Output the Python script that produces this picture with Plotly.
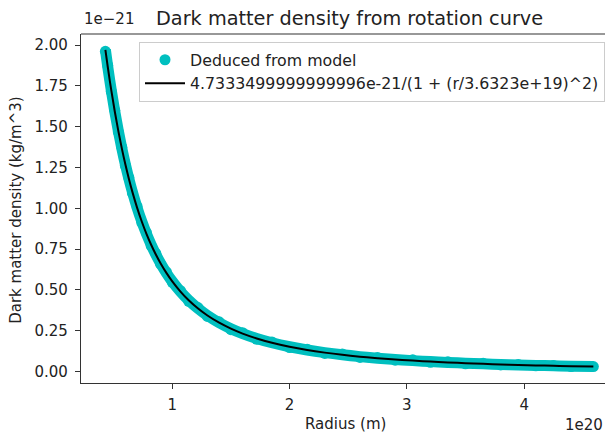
import plotly.graph_objects as go

# Radius in units of 1e20 m
radius = [0.43, 0.45, 0.48, 0.51, 0.54, 0.57, 0.60, 0.63, 0.66, 0.70, 0.74, 0.78, 0.82, 0.86, 0.90, 0.95, 1.00,
          1.07, 1.14, 1.22, 1.30, 1.40, 1.50, 1.60, 1.72, 1.85, 2.00,
          2.15, 2.30, 2.45, 2.60, 2.75, 2.90, 3.05, 3.20, 3.35, 3.50, 3.65, 3.80, 3.95, 4.10, 4.25, 4.40, 4.59]

# Density deduced from model, units of 1e-21 kg/m^3
density_deduced = [1.962, 1.875, 1.716, 1.600, 1.468, 1.374, 1.262, 1.188, 1.093, 1.011, 0.912, 0.851, 0.770, 0.723, 0.657, 0.610, 0.546,
                   0.495, 0.430, 0.391, 0.337, 0.304, 0.256, 0.237, 0.197, 0.181, 0.146,
                   0.136, 0.110, 0.107, 0.086, 0.086, 0.069, 0.071, 0.056, 0.059, 0.047, 0.050, 0.040, 0.043, 0.034, 0.037, 0.030, 0.030]

# Fitted curve values, units of 1e-21 kg/m^3
density_fit = [1.97103, 1.86732, 1.72354, 1.59297, 1.47449, 1.36701, 1.26947, 1.18089, 1.10037, 1.00412, 0.91901, 0.84354, 0.77641, 0.71655, 0.66299, 0.60371, 0.55171,
               0.48910, 0.43624, 0.38541, 0.34277, 0.29853, 0.26218, 0.23199, 0.20208, 0.17570, 0.15114,
               0.13135, 0.11518, 0.10180, 0.09061, 0.08116, 0.07311, 0.06619, 0.06021, 0.05500, 0.05044, 0.04642, 0.04286, 0.03969, 0.03686, 0.03432, 0.03204, 0.02946]

x_ticks = [1, 2, 3, 4]
y_ticks = [0.0, 0.25, 0.5, 0.75, 1.0, 1.25, 1.5, 1.75, 2.0]

title = "Dark matter density from rotation curve"
fit_label = "4.7333499999999996e-21/(1 + (r/3.6323e+19)^2)"
scatter_label = "Deduced from model"

CYAN = "#00BFBF"
FONT = "DejaVu Sans"
TXT = "#222222"

OFF = 8  # page body margin
W, H = 613 - OFF, 436 - OFF
L, T = 81 - OFF, 34 - OFF
B = H - (383.3 - OFF)
pw = W - L
ph = H - T - B


def px(x):
    return (x - OFF - L) / pw


def py(y):
    return 1 - (y - OFF - T) / ph


fig = go.Figure()
fig.add_trace(go.Scatter(x=radius, y=density_fit, mode="lines",
                         line=dict(color=CYAN, width=11, shape="spline"),
                         showlegend=False, hoverinfo="skip"))
fig.add_trace(go.Scatter(x=radius, y=density_deduced, mode="markers",
                         marker=dict(color=CYAN, size=11, line=dict(width=0)),
                         name=scatter_label))
fig.add_trace(go.Scatter(x=radius, y=density_fit, mode="lines",
                         line=dict(color="black", width=2, shape="spline"),
                         name=fit_label))

fig.update_layout(
    width=W, height=H, autosize=False,
    margin=dict(l=L, r=0, t=T, b=B, pad=0),
    plot_bgcolor="white", paper_bgcolor="white",
    font=dict(family=FONT, size=15, color=TXT),
    showlegend=True,
    legend=dict(x=px(139), y=py(42), xanchor="left", yanchor="top",
                bgcolor="rgba(255,255,255,0.8)", bordercolor="#cccccc", borderwidth=1,
                font=dict(family=FONT, size=15.8, color=TXT),
                itemwidth=40, tracegroupgap=0),
    xaxis=dict(range=[0.222, 0.222 + pw / 117.3], tickvals=x_ticks, ticktext=[str(v) for v in x_ticks],
               showgrid=False, zeroline=False, showline=True, linecolor="#333333", linewidth=1.2,
               ticks="outside", ticklen=5, tickcolor="#333333", tickwidth=1, ticklabelstandoff=3,
               tickfont=dict(family=FONT, size=15, color=TXT)),
    yaxis=dict(range=[-0.071, 2.068], tickvals=y_ticks, ticktext=["%.2f" % v for v in y_ticks],
               showgrid=False, zeroline=False, showline=True, linecolor="#333333", linewidth=1.2,
               ticks="outside", ticklen=5, tickcolor="#333333", tickwidth=1, ticklabelstandoff=4,
               tickfont=dict(family=FONT, size=15, color=TXT)),
    shapes=[dict(type="line", xref="paper", yref="paper", x0=0, x1=1, y0=1, y1=1,
                 line=dict(color="#333333", width=1.2))],
    annotations=[
        dict(text=title, xref="paper", yref="paper", x=px(349), y=py(18), xanchor="center",
             yanchor="middle", showarrow=False, borderpad=0,
             font=dict(family=FONT, size=19.3, color=TXT)),
        dict(text="1e\u221221", xref="paper", yref="paper", x=px(83), y=py(19), xanchor="left",
             yanchor="middle", showarrow=False, borderpad=0, font=dict(family=FONT, size=15, color=TXT)),
        dict(text="1e20", xref="paper", yref="paper", x=px(604), y=py(425),
             xanchor="right", yanchor="middle", showarrow=False, borderpad=0,
             font=dict(family=FONT, size=15, color=TXT)),
        dict(text="Radius (m)", xref="paper", yref="paper", x=px(345), y=py(424),
             xanchor="center", yanchor="middle", showarrow=False, borderpad=0,
             font=dict(family=FONT, size=15, color=TXT)),
        dict(text="Dark matter density (kg/m^3)", xref="paper", yref="paper", x=px(16),
             y=py(210), xanchor="center", yanchor="middle", textangle=-90, showarrow=False,
             borderpad=0, font=dict(family=FONT, size=15, color=TXT)),
    ],
)

fig.write_html("out.html")
